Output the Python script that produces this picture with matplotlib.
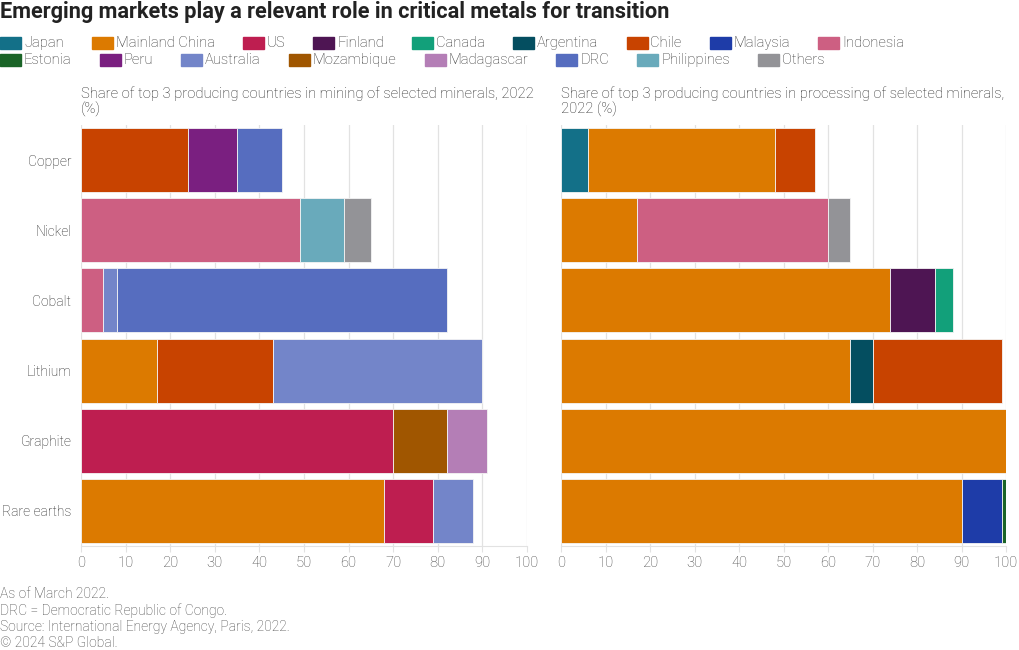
import numpy as np
import matplotlib.pyplot as plt
from matplotlib.patches import Rectangle

plt.rcParams['font.family'] = ['Roboto', 'DejaVu Sans']
plt.rcParams['font.weight'] = 'light'

minerals = ['Copper', 'Nickel', 'Cobalt', 'Lithium', 'Graphite', 'Rare earths']

mining_countries = [['Chile', 'Peru', 'DRC'],
                    ['Indonesia', 'Philippines', 'Others'],
                    ['Indonesia', 'Australia', 'DRC'],
                    ['Mainland China', 'Chile', 'Australia'],
                    ['US', 'Mozambique', 'Madagascar'],
                    ['Mainland China', 'US', 'Australia']]
mining_shares = [[24, 11, 10],
                 [49, 10, 6],
                 [5, 3, 74],
                 [17, 26, 47],
                 [70, 12, 9],
                 [68, 11, 9]]

processing_countries = [['Japan', 'Mainland China', 'Chile'],
                        ['Mainland China', 'Indonesia', 'Others'],
                        ['Mainland China', 'Finland', 'Canada'],
                        ['Mainland China', 'Argentina', 'Chile'],
                        ['Mainland China'],
                        ['Mainland China', 'Malaysia', 'Estonia']]
processing_shares = [[6, 42, 9],
                     [17, 43, 5],
                     [74, 10, 4],
                     [65, 5, 29],
                     [100],
                     [90, 9, 1]]

legend_order = ['Japan', 'Mainland China', 'US', 'Finland', 'Canada', 'Argentina',
                'Chile', 'Malaysia', 'Indonesia', 'Estonia', 'Peru', 'Australia',
                'Mozambique', 'Madagascar', 'DRC', 'Philippines', 'Others']

colors = {'Japan': '#137088', 'Mainland China': '#DC7A00', 'US': '#BE1E50',
          'Finland': '#4E1553', 'Canada': '#12A07A', 'Argentina': '#044E60',
          'Chile': '#C84300', 'Malaysia': '#1E3CA8', 'Indonesia': '#CD5F82',
          'Estonia': '#1A6427', 'Peru': '#7A1F80', 'Australia': '#7385C9',
          'Mozambique': '#A05600', 'Madagascar': '#B47EB6', 'DRC': '#566DBF',
          'Philippines': '#69AABB', 'Others': '#939397'}

W, H = 1020, 650
fig = plt.figure(figsize=(W / 100, H / 100), dpi=100)

text_color = '#222222'
tick_color = '#444444'
grid_color = '#e2e2e2'
fs = 10.6


def draw_panel(ax, countries, shares, show_labels):
    y = np.arange(len(minerals))
    for i in y:
        left = 0
        for c, s in zip(countries[i], shares[i]):
            ax.barh(i, s, left=left, height=0.91, color=colors[c],
                    edgecolor='#f4f4f4', linewidth=0.6, zorder=3)
            left += s
    ax.set_xlim(0, 100)
    ax.set_ylim(len(minerals) - 0.5, -0.5)
    ax.set_xticks(np.arange(0, 101, 10))
    ax.grid(axis='x', color=grid_color, linewidth=0.9, zorder=0)
    for sp in ['top', 'right', 'left']:
        ax.spines[sp].set_visible(False)
    ax.spines['bottom'].set_color(grid_color)
    ax.tick_params(axis='x', length=4, color=grid_color, labelsize=fs,
                   labelcolor=tick_color, pad=3)
    ax.set_yticks(y)
    if show_labels:
        ax.set_yticklabels(minerals)
        ax.tick_params(axis='y', length=0, pad=7, labelsize=10.0,
                       labelcolor=text_color)
    else:
        ax.set_yticklabels([])
        ax.tick_params(axis='y', length=0)


ax1 = fig.add_axes([81 / W, 1 - 546 / H, 446 / W, 421 / H])
ax2 = fig.add_axes([561 / W, 1 - 546 / H, 445 / W, 421 / H])
draw_panel(ax1, mining_countries, mining_shares, True)
draw_panel(ax2, processing_countries, processing_shares, False)

fig.text(81 / W, 1 - 86 / H,
         'Share of top 3 producing countries in mining of selected minerals, 2022\n(%)',
         fontsize=fs, color=text_color, va='top', ha='left', linespacing=1.1)
fig.text(561 / W, 1 - 86 / H,
         'Share of top 3 producing countries in processing of selected minerals,\n2022 (%)',
         fontsize=fs, color=text_color, va='top', ha='left', linespacing=1.1)

fig.text(0, 1 - 12 / H, 'Emerging markets play a relevant role in critical metals for transition',
         fontsize=15.7, fontweight='bold', color='#222222', va='center', ha='left')

# legend, flowed manually in two rows
fig.canvas.draw()
renderer = fig.canvas.get_renderer()
rows = [legend_order[:9], legend_order[9:]]
row_y = [43, 60]
for row, yc in zip(rows, row_y):
    x = 0
    for name in row:
        fig.patches.append(Rectangle((x / W, 1 - (yc + 6) / H), 21 / W, 12 / H,
                                     transform=fig.transFigure, color=colors[name]))
        t = fig.text((x + 24) / W, 1 - yc / H, name, fontsize=fs, color='#333333',
                     va='center', ha='left')
        w = t.get_window_extent(renderer).width
        x += 24 + w + 28

notes = ['As of March 2022.', 'DRC = Democratic Republic of Congo.',
         'Source: International Energy Agency, Paris, 2022.', '\u00a9 2024 S&P Global.']
for k, n in enumerate(notes):
    fig.text(0, 1 - (594 + 16.3 * k) / H, n, fontsize=10.0, color='#444444',
             va='center', ha='left')

fig.savefig('out.png', dpi=100, facecolor='white')
